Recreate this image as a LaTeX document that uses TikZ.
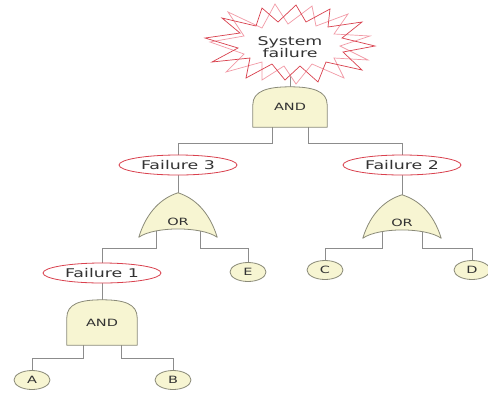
\documentclass[tikz,border=0pt]{standalone}
\usepackage{fontspec}
\newfontfamily\lblfont[FakeStretch=1.45]{DejaVu Sans}
\usetikzlibrary{shapes.geometric,calc}
\pgfdeclarelayer{wires}
\pgfdeclarelayer{bodies}
\pgfsetlayers{wires,bodies,main}

\definecolor{wirecol}{HTML}{8C8C8C}
\definecolor{faultred}{HTML}{D9414E}
\definecolor{burstpink}{HTML}{F29AA6}
\definecolor{gatefill}{HTML}{F7F5D2}
\definecolor{gateline}{HTML}{8A8A78}
\definecolor{txtcol}{HTML}{333333}

% AND gate body: straight sides, domed top
\newcommand\andbody[1]{%
  \path[gatebody] (#1.south west) -- ($(#1.north west)+(0,18)$)
    .. controls ($(#1.north west)+(0,4)$) and ($(#1.north)+(-22,0)$) .. (#1.north)
    .. controls ($(#1.north)+(22,0)$) and ($(#1.north east)+(0,4)$) .. ($(#1.north east)+(0,18)$)
    -- (#1.south east) -- cycle;}
% OR gate body: curved sides meeting in a tip, concave base
\newcommand\orbody[1]{%
  \path[gatebody] (#1.south west)
    .. controls ($(#1.south west)+(8,-26)$) and ($(#1.north)+(-16,5)$) .. (#1.north)
    .. controls ($(#1.north)+(16,5)$) and ($(#1.south east)+(-8,-26)$) .. (#1.south east)
    .. controls ($(#1.south east)+(-16,-11)$) and ($(#1.south west)+(16,-11)$) .. (#1.south west)
    -- cycle;}

\tikzset{
  wire/.style={draw=wirecol, line width=0.8pt},
  gatebody/.style={fill=gatefill, draw=gateline, line width=0.8pt, line join=round},
  fault/.style={ellipse, draw=faultred, fill=white, line width=0.8pt,
    minimum width=118pt, minimum height=20pt, inner sep=0pt,
    font=\lblfont\fontsize{12}{12}\selectfont},
  basic/.style={ellipse, draw=gateline, fill=gatefill, line width=0.8pt,
    minimum width=36pt, minimum height=19pt, inner sep=0pt,
    font=\lblfont\fontsize{10}{10}\selectfont},
  gatebox/.style={inner sep=0pt, font=\lblfont\fontsize{10}{10}\selectfont},
  gatelabel/.style={font=\lblfont\fontsize{10}{10}\selectfont, text=txtcol, inner sep=0pt},
}

\begin{document}
\begin{tikzpicture}[x=1pt, y=-1pt, text=txtcol]
\useasboundingbox (0,0) rectangle (488,392);

% top event
\node[align=center, inner sep=0pt, font=\lblfont\fontsize{12}{11.5}\selectfont] (sys) at (290,47) {System\\failure};

% gates
\node[gatebox, minimum width=74pt, minimum height=40pt] (g1) at (290,107) {AND};
\node[gatebox, minimum width=78pt, minimum height=44pt] (or1) at (178,215) {};
\node[gatelabel] (or1t) at (178,222) {OR};
\node[gatebox, minimum width=78pt, minimum height=43pt] (or2) at (402,216.5) {};
\node[gatelabel] (or2t) at (402,223) {OR};
\node[gatebox, minimum width=70pt, minimum height=45pt] (g2) at (102,322.5) {AND};

% intermediate events
\node[fault] (f3) at (178,165) {Failure 3};
\node[fault] (f2) at (402,165) {Failure 2};
\node[fault] (f1) at (102,273) {Failure 1};

% basic events
\node[basic] (e) at (248,272) {E};
\node[basic] (c) at (325,270) {C};
\node[basic] (d) at (472,270) {D};
\node[basic] (a) at (32,380) {A};
\node[basic] (b) at (173,380) {B};

\begin{pgfonlayer}{wires}
  \fill[white] (0,0) rectangle (488,392);
  \draw[wire] (sys.south) -- (g1.north);
  \draw[wire] ($(g1.south)+(-18,0)$) -- ++(0,16) -| (f3.north);
  \draw[wire] ($(g1.south)+(18,0)$) -- ++(0,16) -| (f2.north);
  \draw[wire] (f3.south) -- (or1.north);
  \draw[wire] (f2.south) -- (or2.north);
  \draw[wire] ($(or1.south)+(-22,-6)$) -- ++(0,17) -| (f1.north);
  \draw[wire] ($(or1.south)+(22,-6)$) -- ++(0,17) -| (e.north);
  \draw[wire] ($(or2.south)+(-20,-6)$) -- ++(0,16) -| (c.north);
  \draw[wire] ($(or2.south)+(20,-6)$) -- ++(0,16) -| (d.north);
  \draw[wire] (f1.south) -- (g2.north);
  \draw[wire] ($(g2.south)+(-19,0)$) -- ++(0,13) -| (a.north);
  \draw[wire] ($(g2.south)+(19,0)$) -- ++(0,13) -| (b.north);
\end{pgfonlayer}

\begin{pgfonlayer}{bodies}
  % jagged burst round the top event, two overlapping strokes
  \def\burstA{(205,38) -- (240,33) -- (222,18) -- (256,26) -- (262,8) -- (278,22)
    -- (296,5) -- (306,22) -- (330,9) -- (328,27) -- (362,22) -- (342,38)
    -- (375,46) -- (343,52) -- (362,70) -- (326,62) -- (318,82) -- (300,66)
    -- (285,80) -- (272,64) -- (246,78) -- (250,58) -- (212,62) -- (238,48) -- cycle}
  \def\burstB{(210,42) -- (244,36) -- (228,12) -- (262,28) -- (275,4) -- (288,24)
    -- (312,6) -- (316,26) -- (348,14) -- (334,34) -- (370,36) -- (340,46)
    -- (368,60) -- (334,58) -- (344,78) -- (312,64) -- (296,84) -- (284,66)
    -- (262,80) -- (262,62) -- (226,72) -- (244,54) -- cycle}
  \fill[white] \burstA;
  \fill[white] \burstB;
  \draw[burstpink, line width=0.7pt, line join=miter] \burstB;
  \draw[faultred, line width=0.7pt, line join=miter] \burstA;
  \andbody{g1}
  \andbody{g2}
  \orbody{or1}
  \orbody{or2}
\end{pgfonlayer}
\end{tikzpicture}
\end{document}
